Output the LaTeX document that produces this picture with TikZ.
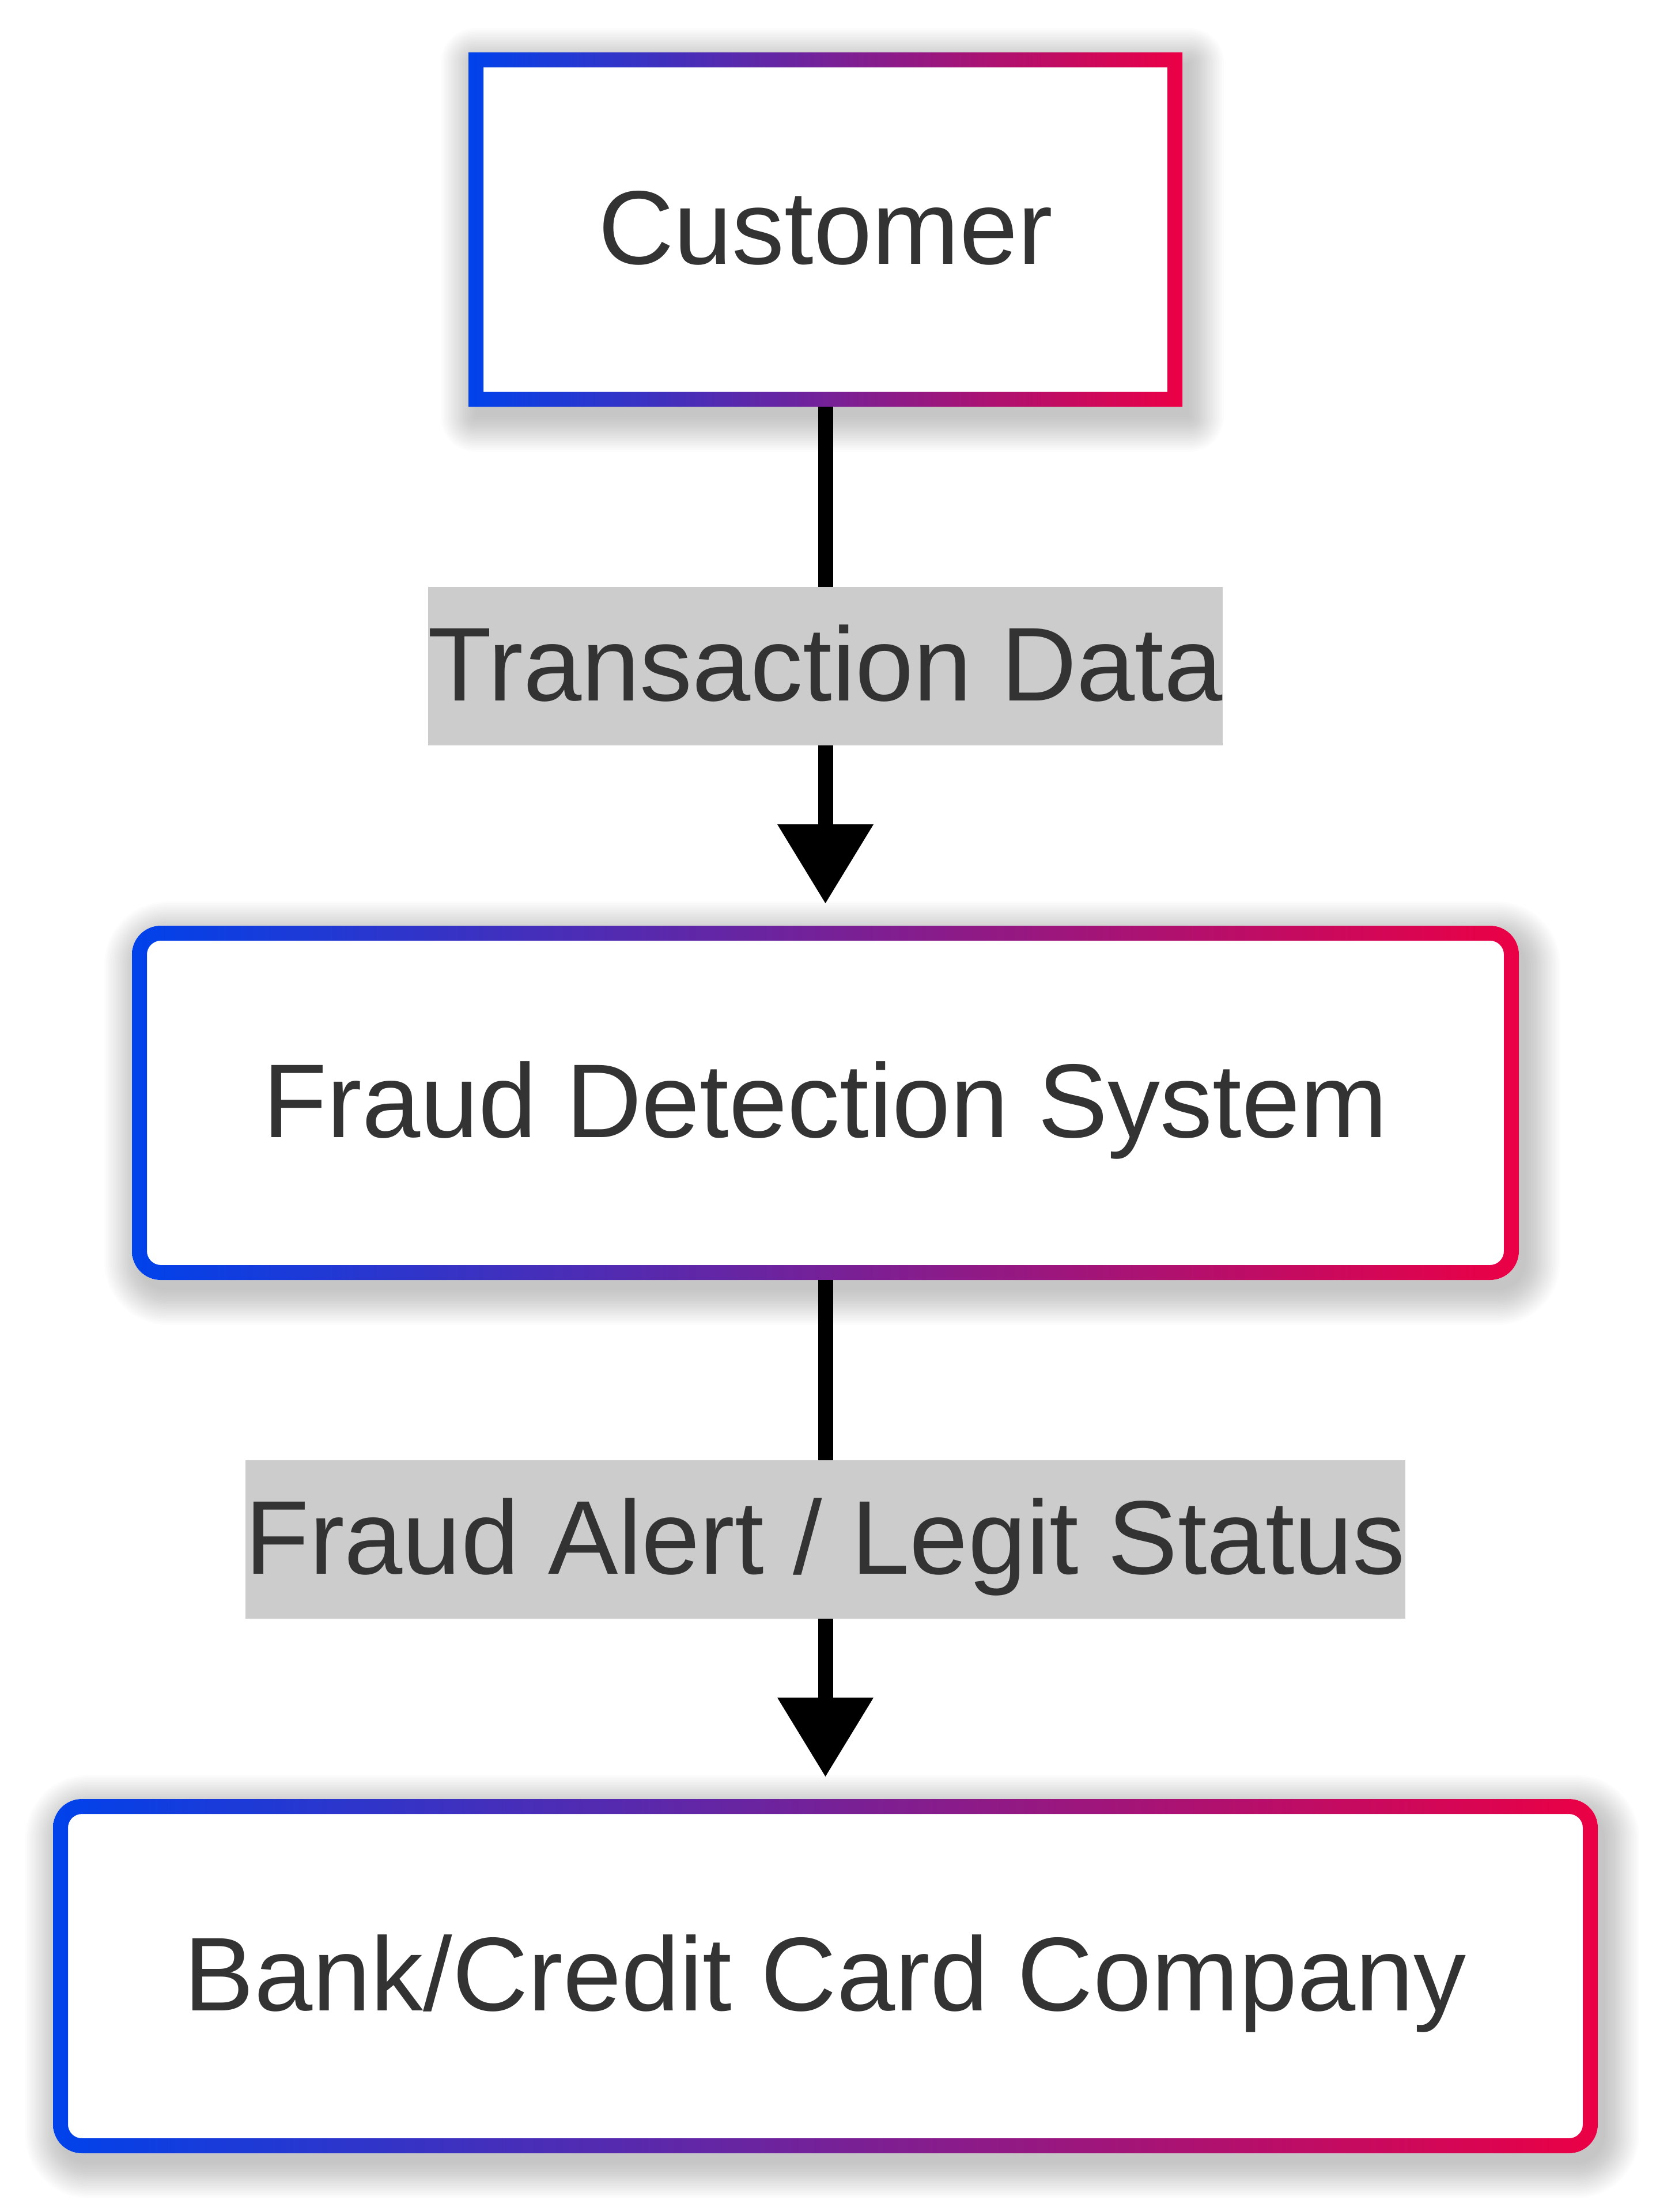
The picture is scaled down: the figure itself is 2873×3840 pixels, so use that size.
\documentclass[tikz,border=0pt]{standalone}
\usepackage{fontspec}
\setmainfont{Liberation Sans}
\usetikzlibrary{arrows.meta,calc}
\definecolor{gblue}{RGB}{0,66,235}
\definecolor{gred}{RGB}{235,0,69}
\definecolor{txtgray}{RGB}{51,51,51}
\definecolor{lblgray}{RGB}{204,204,204}
\pgfdeclarelayer{background}
\pgfsetlayers{background,main}
\newcommand{\decobox}[3]{%
  \begin{pgfonlayer}{background}
    \foreach \e in {0,3,...,60}{
      \pgfmathsetmacro{\rr}{#2+\e}
      \fill[black,opacity=0.011,rounded corners=\rr pt]
        ($(#1.north west)+(12-\e,18-\e)$) rectangle ($(#1.south east)+(12+\e,18+\e)$);
    }
    \fill[white,rounded corners=#2pt] (#1.north west) rectangle (#1.south east);
    \shade[left color=gblue,right color=gred,even odd rule]
      [rounded corners=#2pt] (#1.north west) rectangle (#1.south east)
      [rounded corners=#3pt] ($(#1.north west)+(26,26)$) rectangle ($(#1.south east)+(-26,-26)$);
  \end{pgfonlayer}
}
\tikzset{
  boxnode/.style={inner sep=0pt, outer sep=0pt, minimum height=615pt, text=txtgray,
    font=\fontsize{182}{273}\selectfont, text height=197pt, text depth=78pt},
  lbl/.style={fill=lblgray, inner sep=0pt, outer sep=0pt, text=txtgray,
    font=\fontsize{182}{273}\selectfont, text height=197pt, text depth=78pt},
  edge/.style={line width=26pt, draw=black,
    -{Triangle[length=137pt,width=167pt,line width=0pt]}, shorten >=39pt}
}
\begin{document}
\begin{tikzpicture}[x=1pt,y=-1pt]
  \useasboundingbox (0,0) rectangle (2873,3840);
  \node[boxnode, minimum width=1239pt] (c) at (1432.5,398.5) {Customer};
  \node[boxnode, minimum width=2407pt] (f) at (1432.5,1914.5) {Fraud Detection System};
  \node[boxnode, minimum width=2681pt] (b) at (1432.5,3430.5) {Bank/Credit Card Company};
  \decobox{c}{0}{0}
  \decobox{f}{50}{24}
  \decobox{b}{50}{24}
  \draw[edge] (c.south) -- (f.north);
  \draw[edge] (f.south) -- (b.north);
  \node[lbl] (l1) at (1432.5,1156.5) {Transaction Data};
  \node[lbl] (l2) at (1432.5,2672.5) {Fraud Alert / Legit Status};
\end{tikzpicture}
\end{document}
